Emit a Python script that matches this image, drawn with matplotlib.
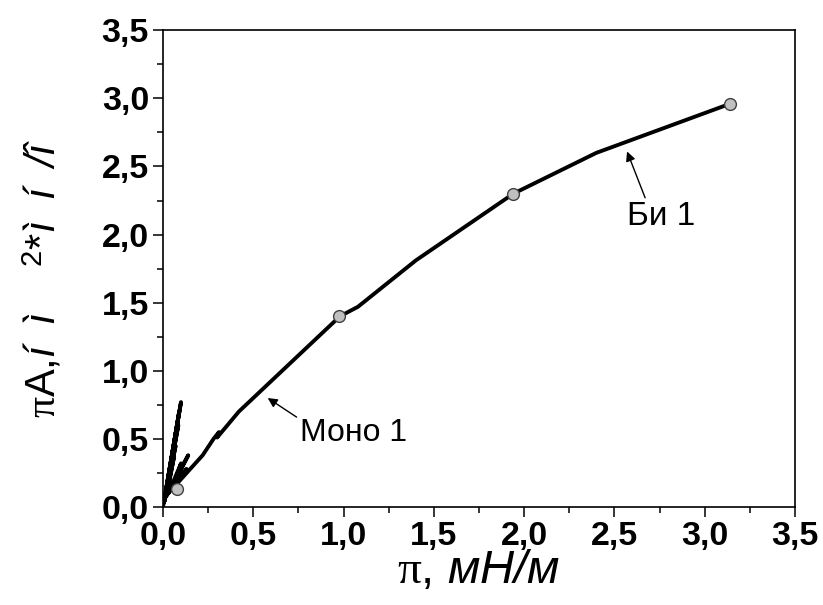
import numpy as np
import matplotlib
matplotlib.use("Agg")
import matplotlib.pyplot as plt

plt.rcParams["font.family"] = ["Liberation Sans", "DejaVu Sans"]
plt.rcParams["mathtext.fontset"] = "custom"
plt.rcParams["mathtext.rm"] = "Liberation Sans"
plt.rcParams["mathtext.it"] = "Liberation Serif"
plt.rcParams["mathtext.sf"] = "Liberation Sans:italic"

# Curve (π vs πA) including the noisy low-pressure part
curve_x = [0.0, 0.10, 0.005, 0.09, 0.008, 0.085, 0.01, 0.07, 0.015, 0.06, 0.02,
           0.14, 0.03, 0.10, 0.05, 0.13, 0.07, 0.22, 0.28, 0.31, 0.30, 0.42,
           0.98, 1.08, 1.40, 1.94, 2.40, 3.14]
curve_y = [0.0, 0.77, 0.03, 0.70, 0.04, 0.60, 0.06, 0.45, 0.07, 0.36, 0.08,
           0.38, 0.10, 0.32, 0.12, 0.28, 0.16, 0.38, 0.50, 0.55, 0.51, 0.70,
           1.40, 1.47, 1.81, 2.30, 2.60, 2.96]

# Marked points
pts_x = [0.078, 0.976, 1.94, 3.14]
pts_y = [0.13, 1.40, 2.30, 2.96]

ticks = [0.0, 0.5, 1.0, 1.5, 2.0, 2.5, 3.0, 3.5]
tick_labels = ["0,0", "0,5", "1,0", "1,5", "2,0", "2,5", "3,0", "3,5"]

fig = plt.figure(figsize=(8.23, 6.05), dpi=100)
ax = fig.add_axes([0.198, 0.162, 0.768, 0.788])

ax.plot(curve_x, curve_y, color="black", lw=2.8, solid_joinstyle="round")
ax.plot(pts_x, pts_y, linestyle="none", marker="o", markersize=8.5,
        markerfacecolor="#c0c0c0", markeredgecolor="#404040", markeredgewidth=1)

ax.set_xlim(0, 3.5)
ax.set_ylim(0, 3.5)
ax.set_xticks(ticks)
ax.set_xticklabels(tick_labels)
ax.set_yticks(ticks)
ax.set_yticklabels(tick_labels)
ax.set_xticks(np.arange(0.25, 3.5, 0.5), minor=True)
ax.set_yticks(np.arange(0.25, 3.5, 0.5), minor=True)

ax.tick_params(which="major", direction="out", length=7, width=1.1, labelsize=24.5, pad=3)
ax.tick_params(which="minor", direction="out", length=4.3, width=1.1)
for lbl in ax.get_xticklabels() + ax.get_yticklabels():
    lbl.set_fontweight("bold")
for s in ax.spines.values():
    s.set_linewidth(1.2)

ax.set_xlabel(r"$\pi$, $\mathsf{мН/м}$", fontsize=34, labelpad=-2)
ax.set_ylabel(r"$\pi$A,$\mathsf{í\ \ ì}$    $^2$*$\mathsf{ì\ \ í\ \ /î}$",
              fontsize=30)
ax.yaxis.set_label_coords(-0.155, 0.48)

# Annotations
ax.text(0.76, 0.54, "Моно 1", fontsize=23, va="center", ha="left")
ax.annotate("", xy=(0.58, 0.80), xytext=(0.74, 0.66),
            arrowprops=dict(arrowstyle="-|>", color="black", lw=1, mutation_scale=14,
                            shrinkA=0, shrinkB=0))
ax.text(2.57, 2.13, "Би 1", fontsize=24, va="center", ha="left")
ax.annotate("", xy=(2.57, 2.61), xytext=(2.67, 2.27),
            arrowprops=dict(arrowstyle="-|>", color="black", lw=1, mutation_scale=14,
                            shrinkA=0, shrinkB=0))

fig.savefig("out.png", dpi=100)
